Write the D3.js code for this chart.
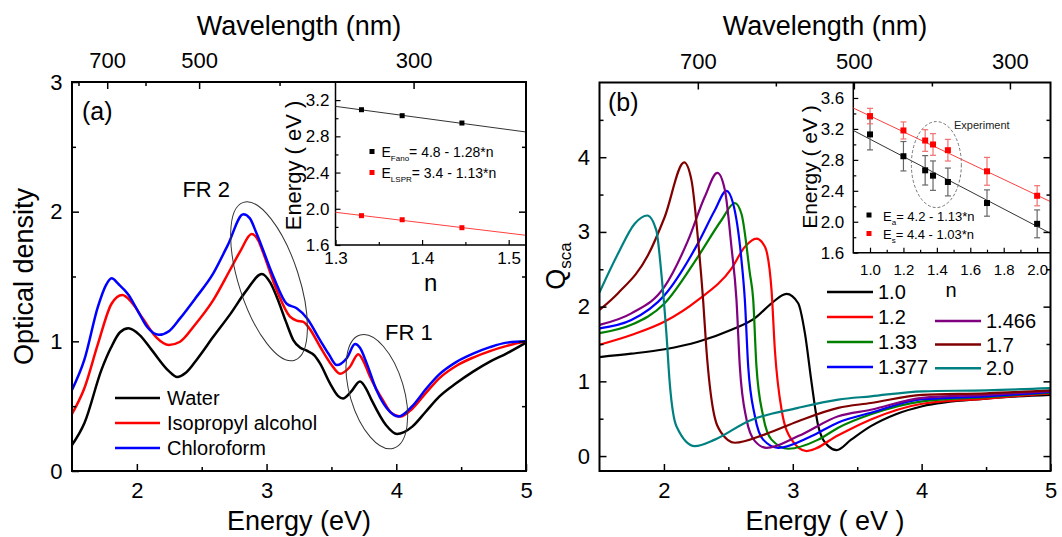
<!DOCTYPE html>
<html>
<head>
<meta charset="utf-8">
<script src="https://cdn.jsdelivr.net/npm/d3@7"></script>
<style>
body { margin: 0; background: #fff; }
</style>
</head>
<body>
<svg id="chart" width="1062" height="537"></svg>
<script>
// ---- panel (a): optical density, [energy eV, OD]
const waterOD = [[1.5,0.20],[1.596,0.37],[1.727,0.78],[1.80,0.95],[1.87,1.07],[1.935,1.10],[2.02,1.05],[2.117,0.93],[2.247,0.77],[2.31,0.725],[2.38,0.76],[2.47,0.87],[2.589,1.035],[2.72,1.21],[2.847,1.395],[2.963,1.52],[3.03,1.45],[3.078,1.344],[3.15,1.15],[3.206,1.01],[3.26,0.95],[3.31,0.928],[3.37,0.89],[3.412,0.83],[3.489,0.676],[3.55,0.58],[3.589,0.56],[3.65,0.61],[3.72,0.69],[3.77,0.63],[3.81,0.547],[3.92,0.355],[4.006,0.285],[4.06,0.30],[4.123,0.342],[4.227,0.457],[4.331,0.573],[4.461,0.676],[4.592,0.766],[4.722,0.843],[4.852,0.907],[5.0,0.99]];
const ipaOD = [[1.5,0.44],[1.596,0.64],[1.70,0.98],[1.805,1.29],[1.888,1.357],[1.96,1.30],[2.05,1.17],[2.15,1.03],[2.247,0.972],[2.333,0.997],[2.45,1.13],[2.589,1.318],[2.718,1.55],[2.80,1.70],[2.885,1.827],[2.935,1.78],[2.975,1.68],[3.078,1.395],[3.181,1.19],[3.232,1.16],[3.283,1.15],[3.33,1.10],[3.412,0.96],[3.50,0.82],[3.566,0.75],[3.64,0.80],[3.707,0.90],[3.75,0.84],[3.798,0.727],[3.90,0.54],[3.96,0.45],[4.031,0.42],[4.123,0.48],[4.227,0.60],[4.331,0.715],[4.461,0.81],[4.592,0.875],[4.722,0.925],[4.852,0.965],[5.0,1.0]];
const chloroOD = [[1.5,0.625],[1.596,0.86],[1.70,1.267],[1.76,1.43],[1.805,1.486],[1.86,1.44],[1.935,1.36],[2.01,1.23],[2.08,1.11],[2.169,1.05],[2.25,1.08],[2.333,1.177],[2.45,1.33],[2.589,1.524],[2.70,1.74],[2.821,1.98],[2.87,1.95],[2.924,1.83],[3.052,1.50],[3.155,1.29],[3.232,1.255],[3.31,1.18],[3.412,1.01],[3.48,0.90],[3.541,0.817],[3.618,0.87],[3.682,0.979],[3.72,0.95],[3.772,0.83],[3.849,0.62],[3.93,0.48],[4.018,0.42],[4.123,0.50],[4.227,0.63],[4.331,0.745],[4.461,0.84],[4.592,0.905],[4.722,0.955],[4.852,0.99],[5.0,1.0]];
const solventNames = ["Water", "Isopropyl alcohol", "Chloroform"];
const solventColors = ["#000000", "#ff0000", "#0000ff"];

// inset (a)
const nA = [1.33, 1.377, 1.446];
const fanoA = [3.094, 3.028, 2.947];
const lsprA = [1.924, 1.879, 1.791];
const fitNA = [1.3, 1.52];
const fitFanoA = [3.131, 2.848];
const fitLsprA = [1.961, 1.707];

// ---- panel (b): Q_sca, [energy eV, Q]
const q10 = [[1.5,1.325],[1.747,1.37],[2.006,1.43],[2.265,1.53],[2.524,1.69],[2.706,1.845],[2.835,2.045],[2.951,2.17],[3.042,2.045],[3.094,1.645],[3.146,0.98],[3.198,0.40],[3.276,0.133],[3.34,0.08],[3.453,0.22],[3.606,0.40],[3.8,0.56],[4.005,0.667],[4.503,0.77],[5.0,0.82]];
const q12 = [[1.5,1.49],[1.747,1.62],[2.006,1.80],[2.265,2.09],[2.524,2.51],[2.628,2.80],[2.718,2.91],[2.784,2.80],[2.835,2.22],[2.861,1.42],[2.913,0.62],[2.99,0.22],[3.107,0.067],[3.353,0.28],[3.606,0.49],[4.005,0.70],[4.503,0.77],[5.0,0.84]];
const q133 = [[1.5,1.645],[1.747,1.756],[2.006,2.045],[2.265,2.67],[2.446,3.156],[2.55,3.387],[2.602,3.24],[2.667,2.445],[2.693,2.09],[2.718,1.2],[2.77,0.533],[2.835,0.22],[2.965,0.098],[3.198,0.22],[3.353,0.38],[3.606,0.56],[4.005,0.733],[4.503,0.79],[5.0,0.85]];
const q1377 = [[1.5,1.71],[1.747,1.82],[2.006,2.156],[2.265,2.85],[2.395,3.29],[2.485,3.55],[2.537,3.38],[2.602,2.62],[2.628,2.09],[2.654,1.2],[2.706,0.533],[2.77,0.22],[2.887,0.11],[3.146,0.267],[3.353,0.45],[3.606,0.58],[4.005,0.76],[4.503,0.80],[5.0,0.86]];
const q1466 = [[1.5,1.756],[1.747,1.91],[2.006,2.27],[2.188,2.89],[2.317,3.47],[2.415,3.79],[2.473,3.56],[2.524,2.8],[2.563,2.09],[2.589,1.2],[2.641,0.49],[2.706,0.2],[2.796,0.11],[3.042,0.267],[3.353,0.533],[3.606,0.62],[4.005,0.78],[4.503,0.82],[5.0,0.87]];
const q17 = [[1.5,1.956],[1.644,2.18],[1.877,2.69],[2.006,3.2],[2.157,3.93],[2.214,3.69],[2.265,2.89],[2.304,2.09],[2.33,1.42],[2.382,0.62],[2.446,0.31],[2.55,0.178],[2.784,0.29],[3.042,0.467],[3.353,0.645],[3.606,0.71],[4.005,0.82],[4.503,0.84],[5.0,0.88]];
const q20 = [[1.5,2.19],[1.644,2.71],[1.773,3.11],[1.871,3.22],[1.941,3.02],[1.98,2.445],[2.019,1.645],[2.045,0.98],[2.097,0.40],[2.24,0.133],[2.395,0.22],[2.654,0.467],[3.042,0.645],[3.353,0.756],[3.606,0.80],[4.005,0.867],[4.503,0.88],[5.0,0.91]];
const nLabels = ["1.0", "1.2", "1.33", "1.377", "1.466", "1.7", "2.0"];
const nColors = ["#000000", "#ff0000", "#008000", "#0000ff", "#800080", "#800000", "#008080"];

// inset (b)
const nB = [1.0, 1.2, 1.33, 1.377, 1.466, 1.7, 2.0];
const eaB = [3.129, 2.847, 2.665, 2.596, 2.514, 2.242, 1.973];
const eaErrB = [0.2, 0.19, 0.19, 0.19, 0.18, 0.17, 0.18];
const esB = [3.366, 3.18, 3.05, 2.999, 2.925, 2.652, 2.336];
const esErrB = [0.10, 0.11, 0.14, 0.14, 0.14, 0.18, 0.13];
const fitNB = [0.9, 2.08];
const fitEaB = [3.18, 1.85];
const fitEsB = [3.47, 2.26];

const FONT = '"Liberation Sans", Arial, sans-serif';
const svg = d3.select("#chart").attr("font-family", FONT);

function axisG(g, axis, tx, ty, fs, lw) {
    const a = g.append("g").attr("transform", `translate(${tx},${ty})`).call(axis);
    a.attr("font-family", FONT).attr("font-size", fs);
    a.select(".domain").remove();
    a.selectAll(".tick line").attr("stroke", "#000").attr("stroke-width", lw || 1.5);
    a.selectAll(".tick text").attr("fill", "#000");
    return a;
}

function frame(g, x0, y0, x1, y1) {
    g.append("rect").attr("x", x0).attr("y", y0).attr("width", x1 - x0).attr("height", y1 - y0)
        .attr("fill", "none").attr("stroke", "#000").attr("stroke-width", 2);
}

// ================= panel (a) =================
const A = {l: 72, r: 526, t: 82, b: 471};
const xA = d3.scaleLinear().domain([1.5, 5]).range([A.l, A.r]);
const yA = d3.scaleLinear().domain([0, 3]).range([A.b, A.t]);
const wlA = d3.scalePow().exponent(-1).domain([1240 / 1.5, 1240 / 5]).range([A.l, A.r]);
const gA = svg.append("g");

const lineA = d3.line().x(d => xA(d[0])).y(d => yA(d[1])).curve(d3.curveMonotoneX);
[waterOD, ipaOD, chloroOD].forEach((s, i) => {
    gA.append("path").attr("d", lineA(s)).attr("fill", "none")
        .attr("stroke", solventColors[i]).attr("stroke-width", 2.5);
});

// FR ellipses
[{e: 3.019, v: 1.463, rx: 30, ry: 83, rot: -18}, {e: 3.85, v: 0.612, rx: 27, ry: 59, rot: -16.5}].forEach(o => {
    gA.append("ellipse")
        .attr("transform", `translate(${xA(o.e)},${yA(o.v)}) rotate(${o.rot})`)
        .attr("rx", o.rx).attr("ry", o.ry)
        .attr("fill", "none").attr("stroke", "#333").attr("stroke-width", 1);
});
gA.append("text").attr("x", xA(2.351)).attr("y", yA(2.115)).attr("font-size", 22).text("FR 2");
gA.append("text").attr("x", xA(3.913)).attr("y", yA(1.01)).attr("font-size", 22).text("FR 1");

// legend (a)
solventNames.forEach((name, i) => {
    const y = 398 + i * 25;
    gA.append("line").attr("x1", 115).attr("x2", 160).attr("y1", y).attr("y2", y)
        .attr("stroke", solventColors[i]).attr("stroke-width", 2.5);
    gA.append("text").attr("x", 167).attr("y", y + 7).attr("font-size", 20).text(name);
});

// inset (a)
const IA = {l: 335.5, r: A.r, t: A.t, b: 245};
const xIA = d3.scaleLinear().domain([1.3, 1.52]).range([IA.l, IA.r]);
const yIA = d3.scaleLinear().domain([1.6, 3.4]).range([IA.b, IA.t]);
gA.append("path").attr("d", `M${IA.l},${IA.t}V${IA.b}H${IA.r}`).attr("fill", "none")
    .attr("stroke", "#000").attr("stroke-width", 1.5);
[[fitFanoA, "#333"], [fitLsprA, "#ff4040"]].forEach(([f, c]) => {
    gA.append("line").attr("x1", xIA(fitNA[0])).attr("x2", xIA(fitNA[1]))
        .attr("y1", yIA(f[0])).attr("y2", yIA(f[1])).attr("stroke", c).attr("stroke-width", 1);
});
[[fanoA, "#000"], [lsprA, "#ff0000"]].forEach(([vals, c]) => {
    gA.selectAll(null).data(vals).enter().append("rect")
        .attr("x", (d, i) => xIA(nA[i]) - 2.5).attr("y", d => yIA(d) - 2.5)
        .attr("width", 5).attr("height", 5).attr("fill", c);
});
axisG(gA, d3.axisLeft(yIA).tickValues([1.6, 2.0, 2.4, 2.8, 3.2]).tickSize(-5).tickPadding(6).tickFormat(d3.format(".1f")), IA.l, 0, 17, 1.2);
axisG(gA, d3.axisLeft(yIA).tickValues([1.8, 2.2, 2.6, 3.0]).tickSize(-3).tickFormat(""), IA.l, 0, 17, 1.2);
axisG(gA, d3.axisBottom(xIA).tickValues([1.3, 1.4, 1.5]).tickSize(-5).tickPadding(6.5).tickFormat(d3.format(".1f")), 0, IA.b, 17, 1.2);
axisG(gA, d3.axisBottom(xIA).tickValues([1.35, 1.45]).tickSize(-3).tickFormat(""), 0, IA.b, 17, 1.2);
gA.append("text").attr("transform", `translate(293,${(IA.t + IA.b) / 2 + 2}) rotate(-90)`)
    .attr("text-anchor", "middle").attr("dy", "0.35em").attr("font-size", 22).text("Energy ( eV )");
gA.append("text").attr("x", (IA.l + IA.r) / 2).attr("y", 291).attr("text-anchor", "middle")
    .attr("font-size", 24).text("n");

const legIA = [["Fano", "= 4.8 - 1.28*n", "#000"], ["LSPR", "= 3.4 - 1.13*n", "#ff0000"]];
legIA.forEach((d, i) => {
    const y = 151.5 + i * 21;
    gA.append("rect").attr("x", 369.5).attr("y", y - 2.5).attr("width", 5).attr("height", 5).attr("fill", d[2]);
    const t = gA.append("text").attr("x", 381.5).attr("y", y + 5).attr("font-size", 14);
    t.append("tspan").text("E");
    t.append("tspan").attr("font-size", 8).attr("dy", 4).text(d[0]);
    t.append("tspan").attr("dy", -4).text(d[1]);
});

// axes (a)
frame(gA, A.l, A.t, A.r, A.b);
axisG(gA, d3.axisBottom(xA).tickValues([2, 3, 4, 5]).tickSize(-7).tickPadding(11.4).tickFormat(d3.format("d")), 0, A.b, 22);
axisG(gA, d3.axisBottom(xA).tickValues([2.5, 3.5, 4.5]).tickSize(-4).tickFormat(""), 0, A.b, 22);
axisG(gA, d3.axisLeft(yA).tickValues([0, 1, 2, 3]).tickSize(-7).tickPadding(9.5).tickFormat(d3.format("d")), A.l, 0, 22);
axisG(gA, d3.axisLeft(yA).tickValues([0.5, 1.5, 2.5]).tickSize(-4).tickFormat(""), A.l, 0, 22);
axisG(gA, d3.axisRight(yA).tickValues([1, 2]).tickSize(-7).tickFormat(""), A.r, 0, 22);
axisG(gA, d3.axisRight(yA).tickValues([0.5, 1.5, 2.5]).tickSize(-4).tickFormat(""), A.r, 0, 22);
axisG(gA, d3.axisTop(wlA).tickValues([700, 500, 300]).tickSize(-7).tickPadding(14).tickFormat(d3.format("d")), 0, A.t, 22);
axisG(gA, d3.axisTop(wlA).tickValues([800, 600, 400]).tickSize(-4).tickFormat(""), 0, A.t, 22);
gA.append("text").attr("x", (A.l + A.r) / 2).attr("y", 530).attr("text-anchor", "middle")
    .attr("font-size", 27).text("Energy (eV)");
gA.append("text").attr("x", (A.l + A.r) / 2).attr("y", 35).attr("text-anchor", "middle")
    .attr("font-size", 27).text("Wavelength (nm)");
gA.append("text").attr("transform", `translate(24,${(A.t + A.b) / 2}) rotate(-90)`)
    .attr("text-anchor", "middle").attr("dy", "0.35em").attr("font-size", 27).text("Optical density");
gA.append("text").attr("x", 82).attr("y", 120).attr("font-size", 25).text("(a)");

// ================= panel (b) =================
const B = {l: 599.5, r: 1050.5, t: 82.5, b: 471};
const xB = d3.scaleLinear().domain([1.5, 5]).range([B.l, B.r]);
const yB = d3.scaleLinear().domain([-0.2, 5]).range([B.b, B.t]);
const wlB = d3.scaleLinear().domain([826, 248]).range([B.l, B.r]);
const gB = svg.append("g");

const lineB = d3.line().x(d => xB(d[0])).y(d => yB(d[1])).curve(d3.curveMonotoneX);
[q10, q12, q133, q1377, q1466, q17, q20].forEach((s, i) => {
    gB.append("path").attr("d", lineB(s)).attr("fill", "none")
        .attr("stroke", nColors[i]).attr("stroke-width", 2.2);
});

// legend (b)
nLabels.forEach((lab, i) => {
    const col = i < 4 ? 0 : 1;
    const row = i < 4 ? i : i - 3;
    const x0 = col ? 935 : 827;
    const y = col ? 321 + (row - 1) * 23.6 : 292 + row * 25;
    gB.append("line").attr("x1", x0).attr("x2", x0 + 46).attr("y1", y).attr("y2", y)
        .attr("stroke", nColors[i]).attr("stroke-width", 2.5);
    gB.append("text").attr("x", x0 + 51).attr("y", y + 7).attr("font-size", 20).text(lab);
});

// inset (b)
const IB = {l: 853.3, r: B.r, t: B.t, b: 252.7};
const xIB = d3.scaleLinear().domain([0.9, 2.08]).range([IB.l, IB.r]);
const yIB = d3.scaleLinear().domain([1.6, 3.8]).range([IB.b, IB.t]);
gB.append("path").attr("d", `M${IB.l},${IB.t}V${IB.b}H${IB.r}`).attr("fill", "none")
    .attr("stroke", "#000").attr("stroke-width", 1.5);
[[fitEaB, "#333"], [fitEsB, "#ff4040"]].forEach(([f, c]) => {
    gB.append("line").attr("x1", xIB(fitNB[0])).attr("x2", xIB(fitNB[1]))
        .attr("y1", yIB(f[0])).attr("y2", yIB(f[1])).attr("stroke", c).attr("stroke-width", 1);
});
gB.append("ellipse").attr("cx", xIB(1.397)).attr("cy", yIB(2.739)).attr("rx", 25).attr("ry", 43)
    .attr("fill", "none").attr("stroke", "#777").attr("stroke-width", 1).attr("stroke-dasharray", "3,2");
gB.append("text").attr("x", 954).attr("y", 129).attr("font-size", 11).attr("fill", "#222").text("Experiment");
[[eaB, eaErrB, "#000", "#666"], [esB, esErrB, "#ff0000", "#f07070"]].forEach(([vals, errs, c, ce]) => {
    const g = gB.append("g");
    vals.forEach((v, i) => {
        const x = xIB(nB[i]);
        const y0 = yIB(v - errs[i]), y1 = yIB(v + errs[i]);
        g.append("line").attr("x1", x).attr("x2", x).attr("y1", y0).attr("y2", y1).attr("stroke", ce).attr("stroke-width", 1.2);
        [y0, y1].forEach(yy => g.append("line").attr("x1", x - 3).attr("x2", x + 3)
            .attr("y1", yy).attr("y2", yy).attr("stroke", ce).attr("stroke-width", 1.2));
    });
    g.selectAll(null).data(vals).enter().append("rect")
        .attr("x", (d, i) => xIB(nB[i]) - 3).attr("y", d => yIB(d) - 3)
        .attr("width", 6).attr("height", 6).attr("fill", c);
});
axisG(gB, d3.axisLeft(yIB).tickValues([1.6, 2.0, 2.4, 2.8, 3.2, 3.6]).tickSize(-5).tickPadding(9).tickFormat(d3.format(".1f")), IB.l, 0, 17, 1.2);
axisG(gB, d3.axisLeft(yIB).tickValues([1.8, 2.2, 2.6, 3.0, 3.4]).tickSize(-3).tickFormat(""), IB.l, 0, 17, 1.2);
axisG(gB, d3.axisBottom(xIB).tickValues([1.0, 1.2, 1.4, 1.6, 1.8, 2.0]).tickSize(-5).tickPadding(11.6).tickFormat(d3.format(".1f")), 0, IB.b, 15, 1.2);
axisG(gB, d3.axisBottom(xIB).tickValues([1.1, 1.3, 1.5, 1.7, 1.9]).tickSize(-3).tickFormat(""), 0, IB.b, 15, 1.2);
gB.append("text").attr("transform", `translate(810,167) rotate(-90)`)
    .attr("text-anchor", "middle").attr("dy", "0.35em").attr("font-size", 21).text("Energy ( eV )");
gB.append("text").attr("x", 951).attr("y", 297).attr("text-anchor", "middle").attr("font-size", 20).text("n");

const legIB = [["a", "= 4.2 - 1.13*n", "#000"], ["s", "= 4.4 - 1.03*n", "#ff0000"]];
legIB.forEach((d, i) => {
    const y = 215 + i * 18.5;
    gB.append("rect").attr("x", 866.5).attr("y", y - 2.5).attr("width", 5).attr("height", 5).attr("fill", d[2]);
    const t = gB.append("text").attr("x", 883).attr("y", y + 5.5).attr("font-size", 13);
    t.append("tspan").text("E");
    t.append("tspan").attr("font-size", 8).attr("dy", 4).text(d[0]);
    t.append("tspan").attr("dy", -4).text(d[1]);
});

// axes (b)
frame(gB, B.l, B.t, B.r, B.b);
axisG(gB, d3.axisBottom(xB).tickValues([2, 3, 4, 5]).tickSize(-7).tickPadding(11.4).tickFormat(d3.format("d")), 0, B.b, 22);
axisG(gB, d3.axisBottom(xB).tickValues([2.5, 3.5, 4.5]).tickSize(-4).tickFormat(""), 0, B.b, 22);
axisG(gB, d3.axisLeft(yB).tickValues([0, 1, 2, 3, 4]).tickSize(-7).tickPadding(9.5).tickFormat(d3.format("d")), B.l, 0, 22);
axisG(gB, d3.axisLeft(yB).tickValues([0.5, 1.5, 2.5, 3.5, 4.5]).tickSize(-4).tickFormat(""), B.l, 0, 22);
axisG(gB, d3.axisRight(yB).tickValues([0, 1, 2, 3, 4]).tickSize(-7).tickFormat(""), B.r, 0, 22);
axisG(gB, d3.axisRight(yB).tickValues([0.5, 1.5, 2.5, 3.5, 4.5]).tickSize(-4).tickFormat(""), B.r, 0, 22);
axisG(gB, d3.axisTop(wlB).tickValues([700, 500, 300]).tickSize(-7).tickPadding(14).tickFormat(d3.format("d")), 0, B.t, 22);
axisG(gB, d3.axisTop(wlB).tickValues([600, 400]).tickSize(-4).tickFormat(""), 0, B.t, 22);
gB.append("text").attr("x", (B.l + B.r) / 2).attr("y", 530).attr("text-anchor", "middle")
    .attr("font-size", 27).text("Energy ( eV )");
gB.append("text").attr("x", (B.l + B.r) / 2).attr("y", 35).attr("text-anchor", "middle")
    .attr("font-size", 27).text("Wavelength (nm)");
const qLab = gB.append("text").attr("transform", "translate(565,266) rotate(-90)")
    .attr("text-anchor", "middle").attr("font-size", 27);
qLab.append("tspan").text("Q");
qLab.append("tspan").attr("font-size", 17).attr("dy", 6).text("sca");
gB.append("text").attr("x", 608).attr("y", 111).attr("font-size", 25).text("(b)");
</script>
</body>
</html>
